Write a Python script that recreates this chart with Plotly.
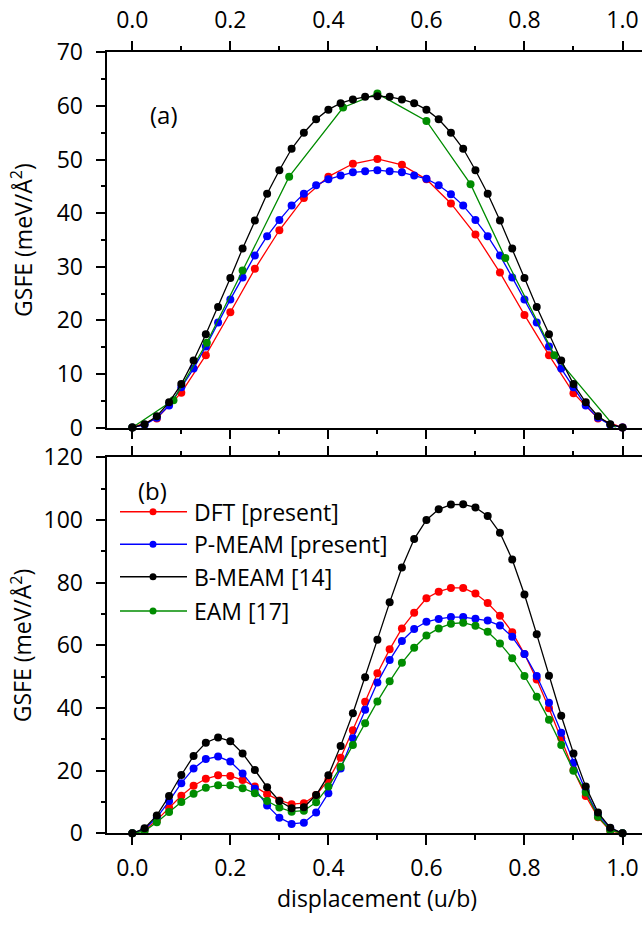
import plotly.graph_objects as go

# ---------------- data ----------------
u_fine = [0.0, 0.025, 0.05, 0.075, 0.1, 0.125, 0.15, 0.175, 0.2, 0.225,
          0.25, 0.275, 0.3, 0.325, 0.35, 0.375, 0.4, 0.425, 0.45, 0.475,
          0.5, 0.525, 0.55, 0.575, 0.6, 0.625, 0.65, 0.675, 0.7, 0.725,
          0.75, 0.775, 0.8, 0.825, 0.85, 0.875, 0.9, 0.925, 0.95, 0.975, 1.0]
u_coarse = [0.0, 0.05, 0.1, 0.15, 0.2, 0.25, 0.3, 0.35, 0.4, 0.45, 0.5,
            0.55, 0.6, 0.65, 0.7, 0.75, 0.8, 0.85, 0.9, 0.95, 1.0]
u_eam_a = [0.0, 0.084, 0.152, 0.225, 0.32, 0.43, 0.5, 0.6, 0.69, 0.761, 0.861, 0.987]

# panel (a)
dft_a = [0, 1.7, 6.5, 13.5, 21.5, 29.6, 36.8, 42.8, 46.8, 49.2, 50.1,
         49.0, 46.3, 41.8, 36.0, 28.9, 21.0, 13.5, 6.4, 1.7, 0]
pmeam_a = [0, 0.5, 1.8, 4.1, 7.5, 11.0, 15.1, 19.6, 23.9, 28.0, 32.1, 35.7, 38.7,
           41.4, 43.6, 45.2, 46.3, 47.0, 47.6, 47.8, 48.0, 47.8, 47.6, 47.0, 46.4,
           45.2, 43.5, 41.4, 38.7, 35.7, 32.1, 28.0, 23.9, 19.6, 15.1, 11.0, 7.5,
           4.1, 1.8, 0.5, 0]
bmeam_a = [0, 0.6, 2.1, 4.7, 8.1, 12.5, 17.4, 22.5, 27.9, 33.4, 38.6, 43.6, 48.0,
           52.0, 55.0, 57.5, 59.3, 60.5, 61.2, 61.7, 61.8, 61.7, 61.2, 60.5, 59.3,
           57.5, 55.0, 52.0, 48.0, 43.6, 38.6, 33.4, 27.9, 22.5, 17.4, 12.5, 8.1,
           4.7, 2.1, 0.6, 0]
eam_a = [0, 5.1, 15.8, 29.3, 46.8, 59.7, 62.3, 57.2, 45.4, 31.6, 13.5, -0.2]

# panel (b)
dft_b = [0, 1.0, 4.2, 8.2, 12.0, 15.2, 17.4, 18.5, 18.3, 17.0, 14.9, 12.5, 10.5,
         9.3, 9.6, 12.2, 17.0, 24.1, 32.9, 42.0, 51.1, 58.7, 65.4, 70.4, 75.0,
         77.1, 78.3, 78.3, 76.5, 73.5, 69.4, 64.2, 57.2, 49.1, 39.9, 30.3, 20.2,
         11.9, 5.1, 0.8, 0]
pmeam_b = [0, 1.3, 5.0, 10.3, 16.0, 20.7, 23.7, 24.5, 22.9, 19.1, 14.2, 8.9, 5.0,
           3.0, 3.4, 6.6, 12.8, 20.7, 30.3, 39.4, 48.1, 55.3, 61.4, 65.2, 67.5,
           68.4, 69.0, 69.0, 68.5, 67.9, 66.3, 62.7, 57.2, 50.2, 41.7, 32.1, 22.5,
           13.5, 5.8, 1.6, 0]
bmeam_b = [0, 1.6, 5.7, 11.9, 18.6, 24.7, 28.9, 30.6, 29.4, 25.5, 20.2, 14.7, 10.3,
           8.0, 8.3, 12.2, 18.5, 27.9, 38.3, 49.8, 61.8, 73.7, 84.8, 93.9, 100.0,
           103.4, 104.9, 105.0, 104.0, 101.3, 95.9, 87.4, 76.2, 63.5, 50.3, 37.5,
           25.5, 14.9, 6.6, 1.8, 0]
eam_b = [0, 0.7, 3.5, 6.8, 10.0, 12.6, 14.5, 15.3, 15.3, 14.4, 12.8, 10.3, 8.2,
         6.9, 7.2, 9.9, 14.9, 21.2, 28.2, 35.1, 42.1, 48.5, 54.4, 59.2, 63.1,
         65.4, 66.9, 67.2, 66.2, 64.3, 60.6, 55.9, 50.2, 43.6, 36.2, 28.2, 20.0,
         13.0, 5.3, 1.0, 0]

names = ["DFT [present]", "P-MEAM [present]", "B-MEAM [14]", "EAM [17]"]
colors = ["#ff0000", "#0000ff", "#000000", "#008c00"]

x_ticks = [0.0, 0.2, 0.4, 0.6, 0.8, 1.0]
x_ticktext = ["0.0", "0.2", "0.4", "0.6", "0.8", "1.0"]
y_ticks_a = [0, 10, 20, 30, 40, 50, 60, 70]
y_ticks_b = [0, 20, 40, 60, 80, 100, 120]

# ---------------- figure ----------------
W, H = 642, 931
FONT = "Open Sans"
TICK_SIZE = 23


def pxx(p):
    return p / W


def pxy(p):
    return 1 - p / H


fig = go.Figure()

series_a = [(u_coarse, dft_a), (u_fine, pmeam_a), (u_eam_a, eam_a), (u_fine, bmeam_a)]
series_b = [(u_fine, dft_b), (u_fine, pmeam_b), (u_fine, eam_b), (u_fine, bmeam_b)]
order = [0, 1, 3, 2]  # index into names/colors for each drawn series

for (xs, ys), k in zip(series_a, order):
    fig.add_trace(go.Scatter(x=xs, y=ys, mode="lines+markers", name=names[k],
                             line=dict(color=colors[k], width=1.3),
                             marker=dict(color=colors[k], size=8),
                             cliponaxis=False, showlegend=False,
                             xaxis="x", yaxis="y"))
for (xs, ys), k in zip(series_b, order):
    fig.add_trace(go.Scatter(x=xs, y=ys, mode="lines+markers", name=names[k],
                             line=dict(color=colors[k], width=1.3),
                             marker=dict(color=colors[k], size=8),
                             cliponaxis=False, showlegend=False,
                             xaxis="x2", yaxis="y2"))

x_left, x_right = 107.3, 642.0
x0px, x1px = 132.3, 622.5
ppu = x1px - x0px
xrange = [-(x0px - x_left) / ppu, 1 + (x_right - x1px) / ppu]
xdom = [pxx(x_left), 1.0]

top_a, bot_a = 52.3, 427.5
top_b, bot_b = 457.3, 833.3

common_x = dict(range=xrange, domain=xdom, tickvals=x_ticks, ticktext=x_ticktext,
                ticks="outside", ticklen=10, tickwidth=1.5, tickcolor="black",
                showline=True, linewidth=1.5, linecolor="black", mirror="ticks",
                showgrid=False, zeroline=False, automargin=False,
                minor=dict(dtick=0.1, tick0=0, ticks="outside", ticklen=5,
                           tickwidth=1.5, tickcolor="black", showgrid=False),
                tickfont=dict(family=FONT, size=TICK_SIZE, color="black"))

common_y = dict(ticks="outside", ticklen=10, tickwidth=1.5, tickcolor="black",
                showline=True, linewidth=1.5, linecolor="black", mirror=False,
                showgrid=False, zeroline=False, automargin=False,
                tickfont=dict(family=FONT, size=TICK_SIZE, color="black"),
                ticklabelstandoff=8)

right_y = dict(showline=False, ticks="inside", ticklen=7, tickwidth=1.2,
               tickcolor="#444444", showticklabels=False, showgrid=False,
               zeroline=False, side="right", automargin=False)

fig.update_layout(
    width=W, height=H,
    margin=dict(l=0, r=0, t=0, b=0, autoexpand=False),
    paper_bgcolor="white", plot_bgcolor="white",
    font=dict(family=FONT, color="black"),
    showlegend=False,
    xaxis=dict(anchor="y", side="top", ticklabelstandoff=3, **common_x),
    yaxis=dict(anchor="x", domain=[pxy(bot_a), pxy(top_a)], range=[0, 70],
               tickvals=y_ticks_a,
               minor=dict(dtick=5, tick0=0, ticks="outside", ticklen=5,
                          tickwidth=1.5, tickcolor="black", showgrid=False),
               **common_y),
    yaxis3=dict(overlaying="y", anchor="x", range=[0, 70], tickvals=y_ticks_a,
                minor=dict(dtick=5, tick0=0, ticks="inside", ticklen=2,
                           tickwidth=1.2, tickcolor="#444444", showgrid=False),
                **right_y),
    xaxis2=dict(anchor="y2", side="bottom", ticklabelstandoff=3, **common_x),
    yaxis2=dict(anchor="x2", domain=[pxy(bot_b), pxy(top_b)], range=[0, 120],
                tickvals=y_ticks_b,
                minor=dict(dtick=10, tick0=0, ticks="outside", ticklen=5,
                           tickwidth=1.5, tickcolor="black", showgrid=False),
                **common_y),
    yaxis4=dict(overlaying="y2", anchor="x2", range=[0, 120], tickvals=y_ticks_b,
                minor=dict(dtick=10, tick0=0, ticks="inside", ticklen=2,
                           tickwidth=1.2, tickcolor="#444444", showgrid=False),
                **right_y),
)

annotations = []
for yc in [(top_a + bot_a) / 2, (top_b + bot_b) / 2]:
    annotations.append(dict(text="GSFE (meV/Å<sup>2</sup>)", textangle=-90,
                            x=pxx(22), y=pxy(yc), xref="paper", yref="paper",
                            showarrow=False, xanchor="center", yanchor="middle",
                            font=dict(family=FONT, size=23, color="black")))
annotations.append(dict(text="displacement (u/b)", x=pxx((x0px + x1px) / 2),
                        y=pxy(898), xref="paper", yref="paper", showarrow=False,
                        xanchor="center", yanchor="middle",
                        font=dict(family=FONT, size=23, color="black")))
annotations.append(dict(text="(a)", x=pxx(148), y=pxy(96), xref="paper", yref="paper",
                        showarrow=False, font=dict(family=FONT, size=24, color="black")))
annotations.append(dict(text="(b)", x=pxx(136), y=pxy(490), xref="paper", yref="paper",
                        showarrow=False, font=dict(family=FONT, size=24, color="black")))

# custom legend (bottom panel)
leg_y = [511.7, 544.3, 576.7, 611.0]
shapes = []
for k, ly in enumerate(leg_y):
    shapes.append(dict(type="line", xref="paper", yref="paper",
                       x0=pxx(120), x1=pxx(187), y0=pxy(ly), y1=pxy(ly),
                       line=dict(color=colors[k], width=1.5)))
    shapes.append(dict(type="circle", xref="paper", yref="paper",
                       x0=pxx(149.5), x1=pxx(156.5), y0=pxy(ly + 3.5), y1=pxy(ly - 3.5),
                       fillcolor=colors[k], line=dict(color=colors[k], width=0)))
    annotations.append(dict(text=names[k], x=pxx(192), y=pxy(ly), xref="paper",
                            yref="paper", xanchor="left", yanchor="middle",
                            showarrow=False,
                            font=dict(family=FONT, size=23, color="black")))

fig.update_layout(annotations=annotations, shapes=shapes)

fig.write_html("out.html")
